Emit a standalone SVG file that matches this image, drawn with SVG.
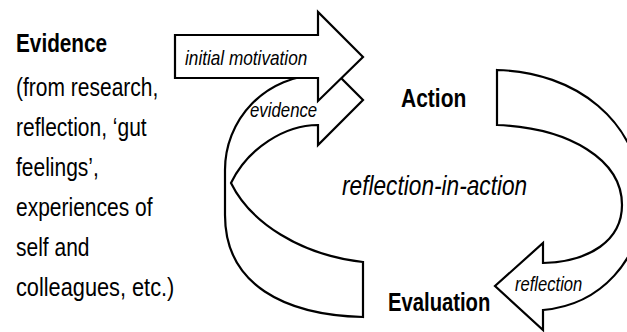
<svg xmlns="http://www.w3.org/2000/svg" width="627" height="332" viewBox="0 0 627 332">
<style>
.t{font-family:"Liberation Sans",Arial,Helvetica,sans-serif;fill:#000}
.b{font-weight:bold;font-size:25px}
.r{font-size:25px}
.i{font-style:italic}
.arrow{fill:#fff;stroke:#000;stroke-width:2.2;stroke-linejoin:miter}
</style>
<rect width="627" height="332" fill="#fff"/>
<g id="node-evidence">
  <text class="t b" transform="translate(16,52) scale(0.83,1)">Evidence</text>
  <text class="t r" transform="translate(16,96) scale(0.84,1)">(from research,</text>
  <text class="t r" transform="translate(16,136) scale(0.84,1)">reflection, ‘gut</text>
  <text class="t r" transform="translate(16,176) scale(0.84,1)">feelings’,</text>
  <text class="t r" transform="translate(16,216) scale(0.84,1)">experiences of</text>
  <text class="t r" transform="translate(16,256) scale(0.84,1)">self and</text>
  <text class="t r" transform="translate(16,296) scale(0.87,1)">colleagues, etc.)</text>
</g>
<g id="node-action">
  <text class="t b" transform="translate(401,107) scale(0.84,1)">Action</text>
</g>
<g id="node-evaluation">
  <text class="t b" transform="translate(388,311) scale(0.81,1)">Evaluation</text>
</g>
<g id="label-center">
  <text class="t i" font-size="27" transform="translate(342,195) scale(0.84,1)">reflection-in-action</text>
</g>
<g id="connectors">
  <g id="edge-evidence">
    <path class="arrow" d="M363,317 C285,315 225,285 225,215 L225,170 A95,95 0 0 1 318,75 L318,55 L363,100 L318,145 L318,125 C285,125 248,148 231,183 C250,222 300,255 363,262 Z"/>
    <text class="t i" font-size="20" transform="translate(250,117) scale(0.84,1)">evidence</text>
  </g>
  <g id="edge-initial-motivation">
    <path class="arrow" d="M175,35 L318,35 L318,12 L363,57 L318,101 L318,78 L175,78 Z"/>
    <text class="t i" font-size="20" transform="translate(185,65) scale(0.86,1)">initial motivation</text>
  </g>
  <g id="edge-reflection">
    <path class="arrow" d="M497,70 C575,72 640,120 642,200 C643,260 600,305 543,310 L543,330 L495,286 L543,243 L543,263 C590,262 622,240 622,205 C622,160 570,128 497,125 Z"/>
    <text class="t i" font-size="20" transform="translate(515,291) scale(0.83,1)">reflection</text>
  </g>
</g>
</svg>
